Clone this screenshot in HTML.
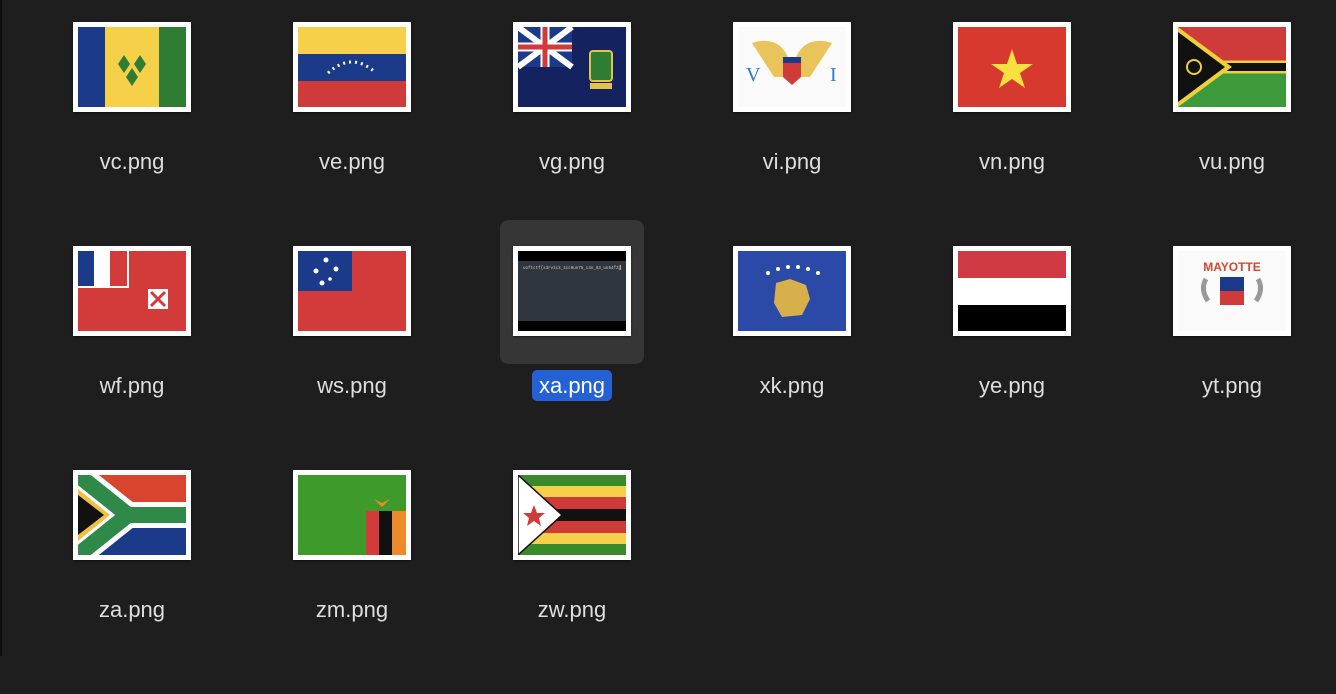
<!DOCTYPE html>
<html><head><meta charset="utf-8">
<style>
html,body{margin:0;padding:0;width:1336px;height:656px;overflow:hidden;background:#1e1e1e;font-family:"Liberation Sans",sans-serif;}
#edge{position:absolute;left:0;top:0;width:2px;height:656px;background:#0e0e0e;}
.item{position:absolute;width:220px;height:224px;}
.sel{position:absolute;left:0;top:-26px;width:144px;height:144px;border-radius:8px;background:#363636;}
.frame{position:absolute;left:13px;top:0;width:118px;height:90px;background:#fff;box-shadow:0 1px 2px rgba(0,0,0,.5);}
.frame svg{position:absolute;left:5px;top:5px;width:108px;height:80px;}
.lbl{position:absolute;left:-60px;width:264px;top:127px;text-align:center;font-size:22px;color:#dedede;}
.lbl span{padding:3px 7px;border-radius:5px;}
.lbl.on span{background:#2461d4;color:#fff;}
</style></head>
<body>
<div id="edge"></div>
<div id="grid"></div>
<script>
const names=["vc","ve","vg","vi","vn","vu","wf","ws","xa","xk","ye","yt","za","zm","zw"];
const F={
vc:'<rect width="108" height="80" fill="#f6d049"/><rect width="27" height="80" fill="#1b3a8a"/><rect x="81" width="27" height="80" fill="#2f7d32"/><path d="M46 28l6 9-6 9-6-9zM62 28l6 9-6 9-6-9zM54 41l6 9-6 9-6-9z" fill="#2f7d32"/>',
ve:'<rect width="108" height="27" fill="#f6d049"/><rect y="27" width="108" height="27" fill="#1b3a8a"/><rect y="54" width="108" height="26" fill="#cf3a3a"/><path d="M30 46Q54 24 78 46" stroke="#fff" stroke-width="3" stroke-dasharray="2 4" fill="none"/>',
vg:'<rect width="108" height="80" fill="#14235f"/><rect width="54" height="40" fill="#1b3a8a"/><path d="M0 0L54 40M54 0L0 40" stroke="#fff" stroke-width="6"/><path d="M27 0v40M0 20h54" stroke="#fff" stroke-width="9"/><path d="M27 0v40M0 20h54" stroke="#cf3a3a" stroke-width="5"/><rect x="72" y="24" width="22" height="30" rx="3" fill="#2f7d32" stroke="#e5c348" stroke-width="2"/><rect x="72" y="56" width="22" height="6" fill="#e5c348"/>',
vi:'<rect width="108" height="80" fill="#fafafa"/><path d="M14 16Q40 8 50 30L58 30Q68 8 94 16L72 50 36 50z" fill="#e8c45a"/><path d="M45 30h18v20l-9 8-9-8z" fill="#cf3a3a"/><rect x="45" y="30" width="18" height="6" fill="#1b3a8a"/><text x="8" y="54" font-size="20" fill="#2e7bc2" font-family="Liberation Serif">V</text><text x="92" y="54" font-size="20" fill="#2e7bc2" font-family="Liberation Serif">I</text>',
vn:'<rect width="108" height="80" fill="#d8392e"/><polygon points="54,22 59,37 75,37 62,46 67,61 54,52 41,61 46,46 33,37 49,37" fill="#f8e040"/>',
vu:'<rect width="108" height="40" fill="#cf3a3a"/><rect y="40" width="108" height="40" fill="#3c9a3c"/><path d="M0 35H108M0 45H108" stroke="#f0cf3a" stroke-width="3"/><rect y="36" width="108" height="8" fill="#111"/><path d="M0 0L54 40 0 80z" fill="#f0cf3a"/><path d="M0 5L47 40 0 75z" fill="#111"/><circle cx="16" cy="40" r="7" fill="none" stroke="#f0cf3a" stroke-width="2"/>',
wf:'<rect width="108" height="80" fill="#d33a3a"/><rect width="16" height="36" fill="#1b3a8a"/><rect x="16" width="16" height="36" fill="#fff"/><rect x="32" width="16" height="36" fill="#d33a3a"/><path d="M0 36h50V0" stroke="#fff" stroke-width="2" fill="none"/><rect x="70" y="38" width="20" height="20" fill="#fff"/><path d="M73 41l14 14M87 41l-14 14" stroke="#d33a3a" stroke-width="3"/>',
ws:'<rect width="108" height="80" fill="#d33a3a"/><rect width="54" height="40" fill="#1b3a8a"/><g fill="#fff"><circle cx="28" cy="9" r="2.5"/><circle cx="18" cy="20" r="2.5"/><circle cx="38" cy="18" r="2.5"/><circle cx="32" cy="28" r="1.8"/><circle cx="24" cy="32" r="2.5"/></g>',
xa:'<rect width="108" height="80" fill="#000"/><rect y="10" width="108" height="60" fill="#30363e"/><text x="5" y="18" font-size="4.2" fill="#ccc" font-family="Liberation Mono">uoftctf{s3rv1c3_4cc0un75_c4n_83_un54f3}</text><rect x="102" y="14" width="1" height="5" fill="#e8a040"/>',
xk:'<rect width="108" height="80" fill="#2b4aa8"/><path d="M38 32l14-4 16 6 4 14-8 16-20 2-8-14z" fill="#d7b04c"/><g fill="#fff"><circle cx="30" cy="22" r="2"/><circle cx="40" cy="18" r="2"/><circle cx="50" cy="16" r="2"/><circle cx="60" cy="16" r="2"/><circle cx="70" cy="18" r="2"/><circle cx="80" cy="22" r="2"/></g>',
ye:'<rect width="108" height="27" fill="#cf3a45"/><rect y="27" width="108" height="27" fill="#fff"/><rect y="54" width="108" height="26" fill="#000"/>',
yt:'<rect width="108" height="80" fill="#fafafa"/><text x="54" y="20" text-anchor="middle" font-size="12" font-weight="bold" fill="#d8452e">MAYOTTE</text><rect x="42" y="26" width="24" height="14" fill="#1b3a8a"/><rect x="42" y="40" width="24" height="14" fill="#cf3a3a"/><path d="M28 28q-6 10 2 22M80 28q6 10-2 22" stroke="#999" stroke-width="5" fill="none"/>',
za:'<rect width="108" height="40" fill="#d8452e"/><rect y="40" width="108" height="40" fill="#1b3a8a"/><path d="M0 0L50 40 0 80M50 40H108" stroke="#fff" stroke-width="26" fill="none"/><path d="M0 0L50 40 0 80M50 40H108" stroke="#2f8a4a" stroke-width="16" fill="none"/><path d="M0 14L32 40 0 66z" fill="#f0c040"/><path d="M0 20L26 40 0 60z" fill="#111"/>',
zm:'<rect width="108" height="80" fill="#3f9a2c"/><rect x="68" y="36" width="13" height="44" fill="#d33a3a"/><rect x="81" y="36" width="13" height="44" fill="#111"/><rect x="94" y="36" width="14" height="44" fill="#ef8a2a"/><path d="M76 24l8 4 8-4-8 8z" fill="#ef8a2a"/>',
zw:'<rect width="108" height="80" fill="#3a8a2c"/><rect y="11" width="108" height="11" fill="#f6d049"/><rect y="22" width="108" height="12" fill="#cf3a3a"/><rect y="34" width="108" height="12" fill="#111"/><rect y="46" width="108" height="12" fill="#cf3a3a"/><rect y="58" width="108" height="11" fill="#f6d049"/><path d="M0 0L44 40 0 80z" fill="#fff" stroke="#111" stroke-width="1.5"/><polygon points="16,30 19,38 27,38 21,43 23,51 16,46 9,51 11,43 5,38 13,38" fill="#cf3a3a"/>'
};
const grid=document.getElementById('grid');
names.forEach((n,i)=>{
  const col=i%6,row=Math.floor(i/6);
  const it=document.createElement('div');
  it.className='item';
  it.style.left=(60+col*220)+'px';
  it.style.top=(22+row*224)+'px';
  
  
  let html='';
  if(n==='xa') html+='<div class="sel"></div>';
  html+='<div class="frame"><svg viewBox="0 0 108 80" preserveAspectRatio="none">'+F[n]+'</svg></div>';
  html+='<div class="lbl'+(n==='xa'?' on':'')+'"><span>'+n+'.png</span></div>';
  it.innerHTML=html;
  const sel=it.querySelector('.sel');
  if(sel){
    
    
  }
  const fr=it.querySelector('.frame');
  
  
  const lb=it.querySelector('.lbl');
  
  
  grid.appendChild(it);
});
</script>
</body></html>
